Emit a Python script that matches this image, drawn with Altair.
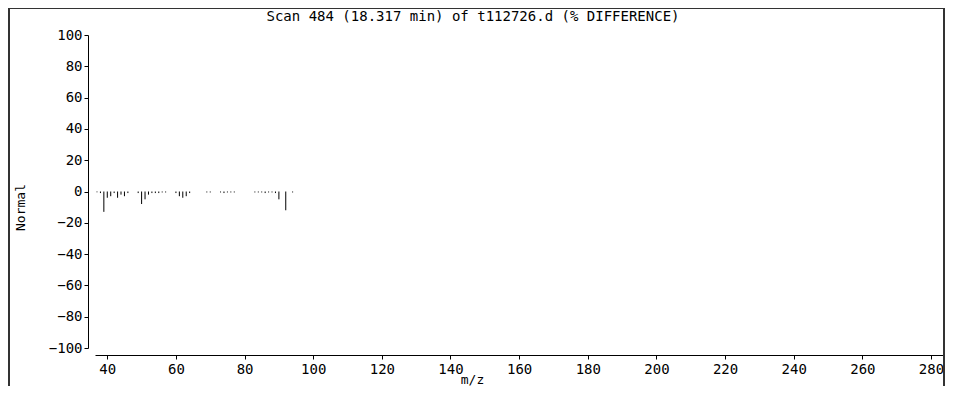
import altair as alt
import pandas as pd

title_text = "Scan 484 (18.317 min) of t112726.d (% DIFFERENCE)"
x_title = "m/z"
y_title = "Normal"

mz = [37, 38, 39, 40, 41, 42, 43, 44, 45, 46,
      49, 50, 51, 52, 53, 54, 55, 56, 57,
      60, 61, 62, 63, 64,
      69, 70, 73, 74, 75, 76, 77,
      83, 84, 85, 86, 87, 88, 89, 90, 92, 94]
diff = [-0.5, -1, -13, -4, -3, -1, -4, -2, -3, -1,
        -1, -8, -5, -2, -1, -1, -1, -0.6, -0.6,
        -1, -3, -4, -3, -1,
        -0.6, -0.6, -0.6, -1, -0.6, -0.6, -0.6,
        -0.6, -0.6, -0.6, -1, -0.6, -0.6, -1, -5, -12, -0.6]

x_ticks = list(range(40, 281, 20))
y_ticks = list(range(-100, 101, 20))

df = pd.DataFrame({"mz": mz, "diff": diff, "zero": [0] * len(mz)})

FONT = "DejaVu Sans Mono"
W, H = 848, 313

bars = alt.Chart(df).mark_rule(color="black", strokeWidth=1).encode(
    x=alt.X("mz:Q",
            scale=alt.Scale(domain=[36.42, 283.5], nice=False, zero=False),
            axis=alt.Axis(values=x_ticks, title=x_title, offset=7, tickSize=4,
                          labelPadding=3, grid=False, domainColor="black",
                          tickColor="black", labelColor="black", labelFont=FONT,
                          labelFontSize=14, titleFont=FONT, titleFontSize=13,
                          titleFontWeight="normal", titleColor="black",
                          titleX=377, titleY=24, titleBaseline="middle")),
    y=alt.Y("zero:Q",
            scale=alt.Scale(domain=[-100, 100], nice=False),
            axis=alt.Axis(values=y_ticks, title=y_title, offset=7, tickSize=4,
                          labelPadding=2, grid=False, domainColor="black",
                          tickColor="black", labelColor="black", labelFont=FONT,
                          labelFontSize=14, titleFont=FONT, titleFontSize=13,
                          titleFontWeight="normal", titleColor="black",
                          titleX=-68, titleY=172, titleBaseline="middle",
                          titleAngle=270)),
    y2="diff:Q",
)

frame_top = alt.Chart(df).mark_rule(color="#333333", strokeWidth=1).encode(
    x=alt.value(-87), x2=alt.value(850), y=alt.value(-26.5)
)
frame_left = alt.Chart(df).mark_rule(color="#333333", strokeWidth=2).encode(
    x=alt.value(-86), y=alt.value(-27), y2=alt.value(351)
)
frame_right = alt.Chart(df).mark_rule(color="#333333", strokeWidth=2).encode(
    x=alt.value(849), y=alt.value(-27), y2=alt.value(351)
)

chart = alt.layer(bars, frame_top, frame_left, frame_right).properties(
    width=W, height=H,
    title=alt.TitleParams(title_text, font=FONT, fontSize=14, fontWeight="normal",
                          color="black", anchor="middle", frame="group",
                          dx=-46, offset=-17),
    autosize=alt.AutoSizeParams(type="none"),
    padding={"left": 87, "top": 27, "right": 2, "bottom": 38},
    background="white",
).configure_view(strokeWidth=0)

chart.save("out.html", embed_options={"renderer": "svg", "actions": False})
